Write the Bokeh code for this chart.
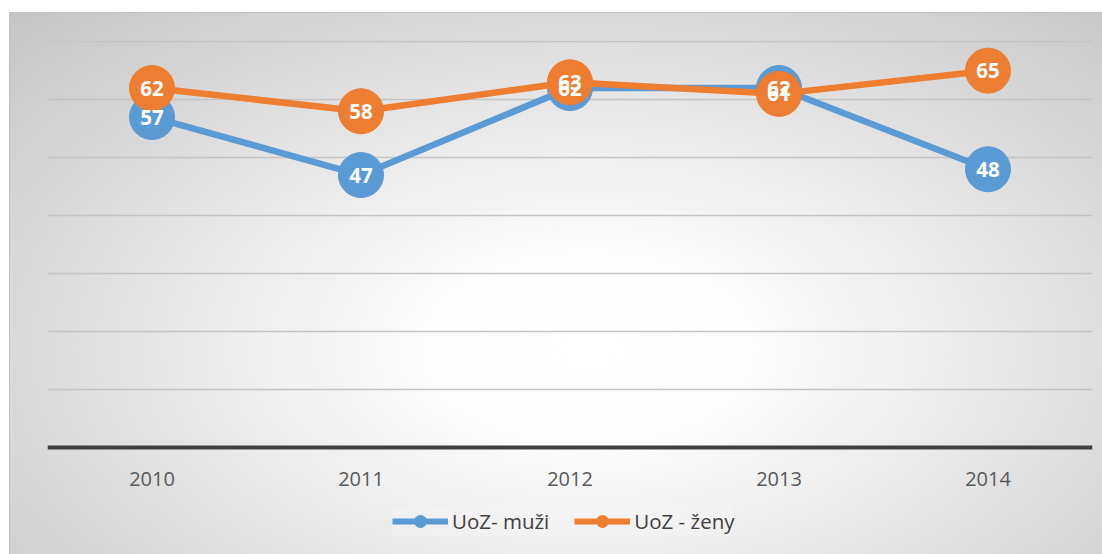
from bokeh.plotting import figure
from bokeh.models import ColumnDataSource, Legend, LegendItem, FactorRange, Range1d, SingleIntervalTicker
from bokeh.core.properties import value
from bokeh.embed import file_html
from bokeh.resources import INLINE

years = ["2010", "2011", "2012", "2013", "2014"]
muzi = [57, 47, 62, 62, 48]
zeny = [62, 58, 63, 61, 65]
series_names = ["UoZ- muži", "UoZ - ženy"]

BLUE = "#5B9BD5"
ORANGE = "#ED7D31"
FONT = "Open Sans"

bg = ("linear-gradient(#c2c2c2, #c2c2c2) 9px 12px / 100% 1px no-repeat, "
      "linear-gradient(#c2c2c2, #c2c2c2) 9px 12px / 1px 100% no-repeat, "
      "radial-gradient(ellipse farthest-corner at 53% 62%, #ffffff 0%, #fdfdfd 20%, #c4c4c4 100%) "
      "9px 12px / calc(100% - 9px) calc(100% - 12px) no-repeat, #ffffff")

# vertical scale: 0..70 spans 406 px; frame extends below 0 to hold axis labels and legend
Y_TOP = 70.2
Y_BOTTOM = Y_TOP - 514 / 5.8

p = figure(
    width=1102, height=554,
    x_range=FactorRange(*years, range_padding=0),
    y_range=Range1d(Y_BOTTOM, Y_TOP),
    output_backend="svg", toolbar_location=None,
    min_border_left=47, min_border_right=10, min_border_top=40, min_border_bottom=0,
    styles={"background": bg},
)
p.background_fill_alpha = 0
p.border_fill_alpha = 0
p.outline_line_color = None

p.yaxis.visible = False
p.ygrid.ticker = SingleIntervalTicker(interval=10)
p.ygrid.bounds = (0.5, Y_TOP)
p.ygrid.grid_line_color = "#c4c4c4"
p.ygrid.grid_line_width = 1.5
p.xgrid.grid_line_color = None

ax = p.xaxis[0]
ax.fixed_location = 0
ax.axis_line_color = "#404040"
ax.axis_line_width = 4
ax.major_tick_line_color = None
ax.minor_tick_line_color = None
ax.major_label_standoff = 18
ax.major_label_text_font = FONT
ax.major_label_text_font_size = "20px"
ax.major_label_text_color = "#595959"

src_m = ColumnDataSource(dict(x=years, y=muzi, t=[str(v) for v in muzi]))
src_z = ColumnDataSource(dict(x=years, y=zeny, t=[str(v) for v in zeny]))

p.line("x", "y", source=src_m, line_color=BLUE, line_width=6.5, line_join="round")
p.scatter("x", "y", source=src_m, size=45, fill_color=BLUE, line_color=BLUE)
p.line("x", "y", source=src_z, line_color=ORANGE, line_width=6.5, line_join="round")
p.scatter("x", "y", source=src_z, size=45, fill_color=ORANGE, line_color=ORANGE)

for src in (src_m, src_z):
    p.text("x", "y", text="t", source=src, text_align="center", text_baseline="middle",
           text_color="white", text_font=value(FONT), text_font_style="bold",
           text_font_size="20.5px")

# legend-only proxy renderers (NaN point: nothing drawn in the frame)
nan = float("nan")
proxy = ColumnDataSource(dict(x=[years[0]], y=[nan]))
lm_line = p.line("x", "y", source=proxy, line_color=BLUE, line_width=6)
lm_pt = p.scatter("x", "y", source=proxy, size=13, fill_color=BLUE, line_color=BLUE)
lz_line = p.line("x", "y", source=proxy, line_color=ORANGE, line_width=6)
lz_pt = p.scatter("x", "y", source=proxy, size=13, fill_color=ORANGE, line_color=ORANGE)

legend = Legend(
    items=[LegendItem(label=series_names[0], renderers=[lm_line, lm_pt]),
           LegendItem(label=series_names[1], renderers=[lz_line, lz_pt])],
    orientation="horizontal",
    location=(345, 18),
    glyph_width=56, glyph_height=30, label_standoff=4, spacing=25,
    padding=10, margin=0,
    label_text_font=FONT, label_text_font_size="20.5px", label_text_color="#404040",
    background_fill_color="white", background_fill_alpha=0.2,
    border_line_color=None,
)
p.add_layout(legend)

open("out.html", "w").write(file_html(p, INLINE))
